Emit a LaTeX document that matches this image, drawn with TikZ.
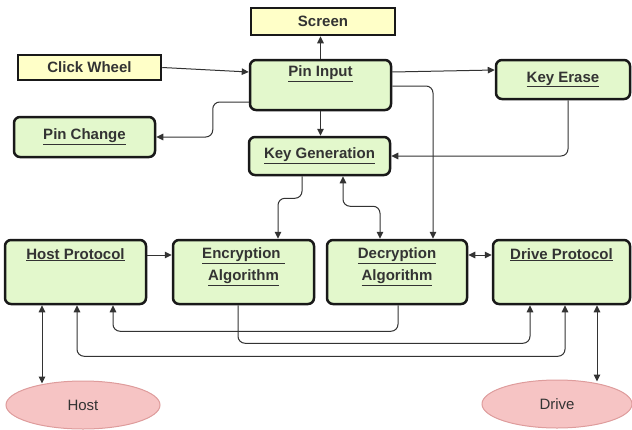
\documentclass[tikz,border=0pt]{standalone}
\usepackage{fontspec}
\setmainfont{Liberation Sans}
\usetikzlibrary{arrows.meta,shapes.geometric}
\definecolor{boxgreen}{HTML}{E3F8CC}
\definecolor{boxyellow}{HTML}{FFFFC8}
\definecolor{hostpink}{HTML}{F6C4C4}
\definecolor{hostedge}{HTML}{DE9C9C}
\definecolor{ink}{HTML}{333333}
\begin{document}
\begin{tikzpicture}[x=1pt,y=-1pt,
  box/.style={draw=black!90,line width=2.5pt,rounded corners=6pt,fill=boxgreen,
    inner sep=0pt,text=ink,font=\fontsize{15}{18}\selectfont\bfseries},
  ybox/.style={draw=black!90,line width=2.5pt,fill=boxyellow,inner sep=0pt,
    text=ink,font=\fontsize{15}{18}\selectfont\bfseries},
  lbl/.style={inner sep=0pt,text=ink,align=center,
    font=\fontsize{15}{22}\selectfont\bfseries},
  ell/.style={ellipse,draw=hostedge,line width=1pt,fill=hostpink,inner sep=0pt,
    text=ink,font=\fontsize{15}{18}\selectfont},
  conn/.style={draw=ink,line width=1pt,rounded corners=7pt,
    -{Triangle[length=7pt,width=6.5pt]}},
  conn2/.style={conn,{Triangle[length=7pt,width=6.5pt]}-{Triangle[length=7pt,width=6.5pt]}}]
\useasboundingbox (0,0) rectangle (632,429);

% blocks
\node[ybox,minimum width=144pt,minimum height=27pt] (scr) at (323,21.5) {Screen};
\node[ybox,minimum width=143pt,minimum height=25pt] (cw) at (89.5,67.5) {Click Wheel};
\node[box,minimum width=141pt,minimum height=50pt] (pi) at (320.5,85) {};
\node[box,minimum width=134pt,minimum height=39pt] (ke) at (563,79.5) {\underline{Key Erase}};
\node[box,minimum width=141pt,minimum height=40pt] (pc) at (84.5,137) {\underline{Pin Change}};
\node[box,minimum width=141pt,minimum height=38pt] (kg) at (319.5,156) {\underline{Key Generation}};
\node[box,minimum width=141pt,minimum height=64pt] (hp) at (75.5,272) {};
\node[box,minimum width=141pt,minimum height=64pt] (enc) at (243.5,272) {};
\node[box,minimum width=140pt,minimum height=64pt] (dec) at (397,272) {};
\node[box,minimum width=137pt,minimum height=64pt] (drv) at (561.5,272) {};
\node[ell,minimum width=154pt,minimum height=48pt] (host) at (83,405) {Host};
\node[ell,minimum width=150pt,minimum height=48pt] (drive) at (557,404) {Drive};

% block titles placed near the top edge
\node[lbl] (piT) at ([yshift=-15pt]pi.north) {\underline{Pin Input}};
\node[lbl] (hpT) at ([yshift=-16pt]hp.north) {\underline{Host Protocol}};
\node[lbl] (encT) at ([yshift=5pt]enc.center) {\underline{Encryption }\\\underline{Algorithm}};
\node[lbl] (decT) at ([yshift=5pt]dec.center) {\underline{Decryption}\\\underline{Algorithm}};
\node[lbl] (drvT) at ([yshift=-16pt]drv.north) {\underline{Drive Protocol}};

% connectors around the pin input
\draw[conn] (pi.north) -- (pi.north |- scr.south);
\draw[conn] (cw.east) -- ([yshift=13pt]pi.west);
\draw[conn] ([yshift=-17pt]pi.west) -- ++(-36,0) |- (pc.east);
\draw[conn] (pi.south) -- (pi.south |- kg.north);
\draw[conn] ([yshift=13pt]pi.east) -- ([yshift=9.5pt]ke.west);
\draw[conn] ([yshift=-1pt]pi.east) -| ([xshift=36pt]dec.north);
\draw[conn] ([xshift=5pt]ke.south) |- (kg.east);

% key generation to the cipher blocks
\draw[conn] ([xshift=-17.5pt]kg.south) -- ++(0,22) -| ([xshift=34.5pt]enc.north);
\draw[conn2] ([xshift=23.5pt]kg.south) -- ++(0,30) -| ([xshift=-17pt]dec.north);

% protocol row
\draw[conn] ([yshift=17pt]hp.east) -- ([yshift=17pt]enc.west);
\draw[conn2] ([yshift=17pt]dec.east) -- ([yshift=17pt]drv.west);

% bus lines under the row
\draw[conn] ([xshift=-5.5pt]enc.south) -- ++(0,38) -| ([xshift=-31.5pt]drv.south);
\draw[conn] ([xshift=1pt]dec.south) -- ++(0,26) -| ([xshift=37.5pt]hp.south);
\draw[conn2] ([xshift=1.5pt]hp.south) -- ++(0,51) -| ([xshift=3.5pt]drv.south);

% external endpoints
\draw[conn2] ([xshift=-33.5pt]hp.south) -- ([xshift=-33.5pt,yshift=-3pt]hp.south |- host.north);
\draw[conn2] ([xshift=35.5pt]drv.south) -- ([xshift=35.5pt,yshift=-2pt]drv.south |- drive.north);
\end{tikzpicture}
\end{document}
